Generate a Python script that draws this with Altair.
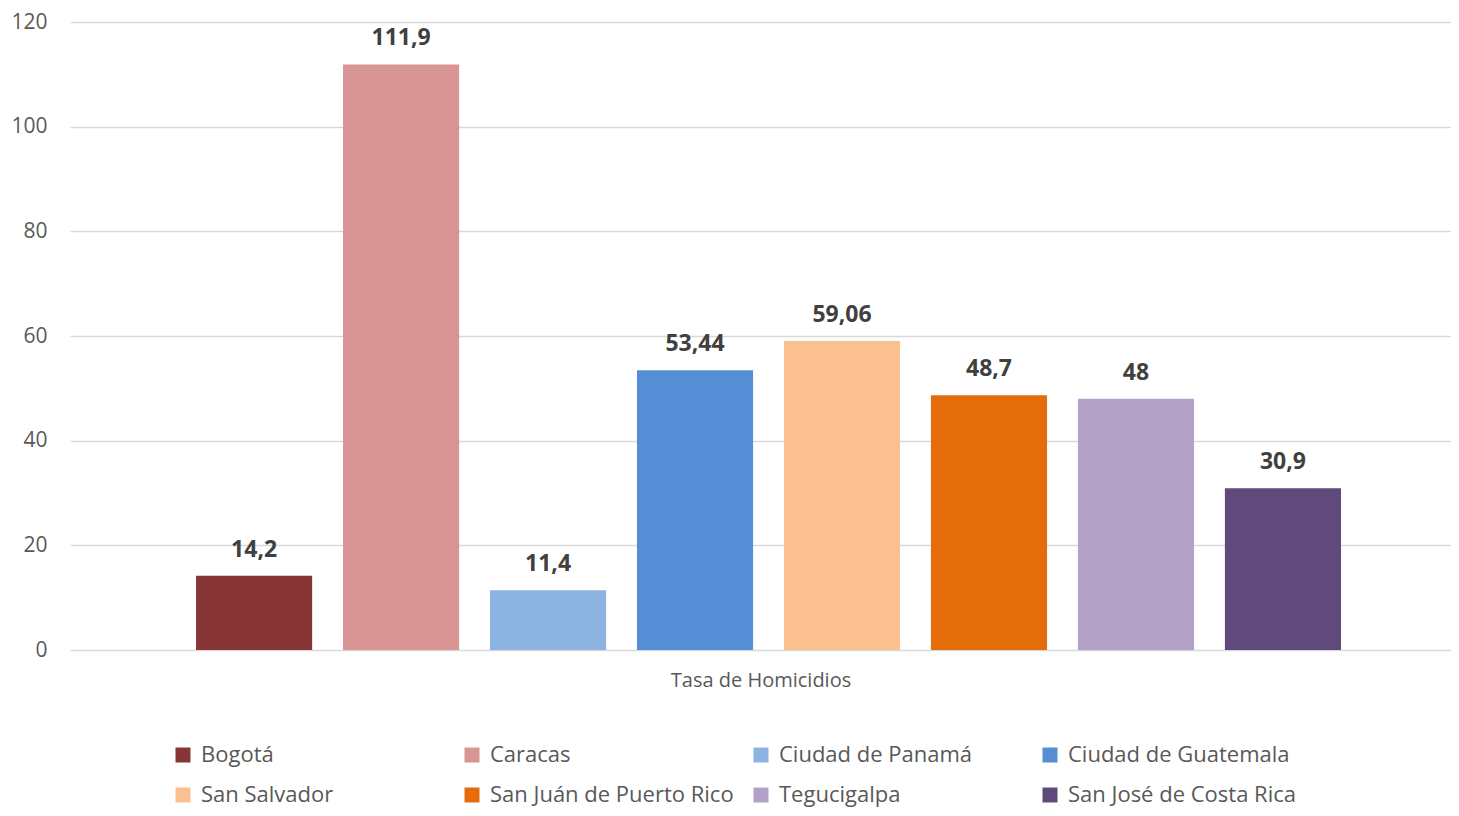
import altair as alt
import pandas as pd

cities = ["Bogotá", "Caracas", "Ciudad de Panamá", "Ciudad de Guatemala",
          "San Salvador", "San Juán de Puerto Rico", "Tegucigalpa", "San José de Costa Rica"]
values = [14.2, 111.9, 11.4, 53.44, 59.06, 48.7, 48, 30.9]
colors = ["#873535", "#D99594", "#8DB3E2", "#558ED5", "#FAC090", "#E46C0A", "#B3A2C7", "#604A7B"]

df = pd.DataFrame({
    "city": cities,
    "value": values,
    "label": [f"{v:g}".replace(".", ",") for v in values],
    "group": "Tasa de Homicidios",
})

FONT = "Open Sans"

base = alt.Chart(df).encode(
    x=alt.X("city:N", sort=cities,
            scale=alt.Scale(paddingInner=0.21, paddingOuter=0.803, align=0.534),
            axis=alt.Axis(labels=False, ticks=False, domain=False,
                          title="Tasa de Homicidios", titleFontSize=20,
                          titleFont=FONT, titleFontWeight="normal",
                          titleColor="#595959", titlePadding=20)),
    y=alt.Y("value:Q", scale=alt.Scale(domain=[0, 120]),
            axis=alt.Axis(values=[0, 20, 40, 60, 80, 100, 120], title=None,
                          ticks=False, domain=False, labelFontSize=21,
                          labelFont=FONT, labelColor="#595959", labelPadding=23,
                          gridColor="#D9D9D9", gridWidth=1.5)),
)

bars = base.mark_bar().encode(
    color=alt.Color("city:N", sort=cities,
                    scale=alt.Scale(domain=cities, range=colors),
                    legend=alt.Legend(title=None, orient="none", legendX=102, legendY=722,
                                      columns=4, gridAlign="all", columnPadding=16,
                                      rowPadding=18, symbolType="square", symbolSize=225,
                                      symbolStrokeWidth=0, labelFontSize=22, labelFont=FONT,
                                      labelColor="#595959", labelLimit=400, labelOffset=7,
                                      direction="horizontal"))
)

text = base.mark_text(baseline="bottom", dy=-14, fontSize=23, fontWeight="bold",
                      font=FONT, color="#404040").encode(text="label:N")

chart = (bars + text).properties(
    width=1381, height=628,
    padding={"left": 62, "top": 14, "right": 0, "bottom": 158},
    autosize=alt.AutoSizeParams(type="none"),
).configure_view(stroke=None)

chart.save("out.html", embed_options={"renderer": "svg", "actions": False})
